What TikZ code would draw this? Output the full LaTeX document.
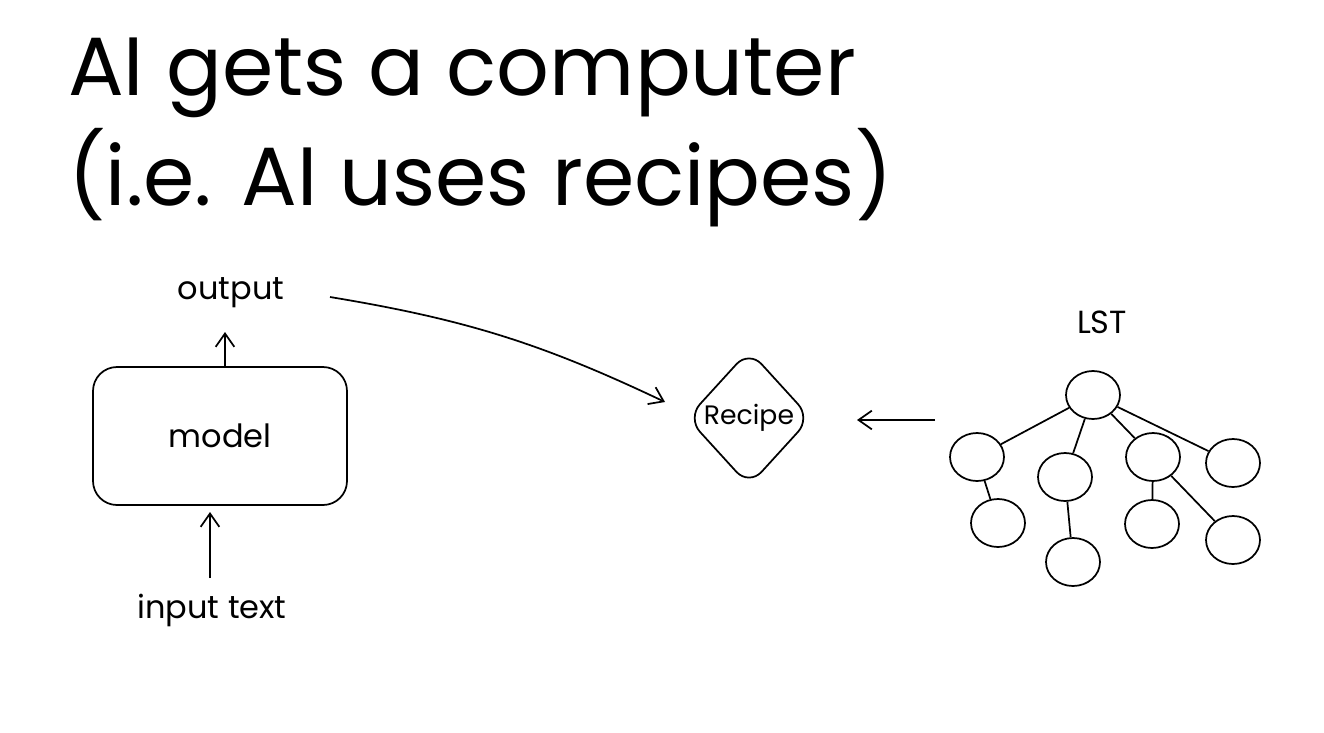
\documentclass[tikz,border=0pt]{standalone}
\usepackage{fontspec}
\setmainfont{Poppins}
\usetikzlibrary{shapes.geometric,arrows.meta}
\begin{document}
\begin{tikzpicture}[x=0.75pt,y=-0.75pt,
  every node/.style={inner sep=0pt},
  lbl/.style={font=\fontsize{24}{28}\selectfont},
  circ/.style={draw,line width=1.3pt,ellipse,minimum width=54pt*0.75,minimum height=48pt*0.75},
  arr/.style={line width=1.3pt,-{Straight Barb[length=10pt,width=14pt]}},
  ln/.style={line width=1.3pt}]
\useasboundingbox (0,0) rectangle (1324,732);
\node[anchor=west,font=\fontsize{62}{68}\selectfont] (t1) at (68,78) {AI gets a computer};
\node[anchor=west,font=\fontsize{62}{68}\selectfont] (t2) at (68,178) {(i.e. AI uses recipes)};
\node[lbl] (out) at (231,293) {output};
\node[draw,line width=1.3pt,rounded corners=18pt,minimum width=254pt*0.75,minimum height=138pt*0.75,lbl] (model) at (220,436) {model};
\node[lbl] (in) at (212,610) {input text};
\coordinate (inS) at (210,578);
\draw[arr] (model.north -| 225,0) -- (225,332);
\draw[arr] (inS) -- (210,512);
\node[draw,diamond,line width=1.3pt,rounded corners=14pt,minimum width=124pt*0.75,minimum height=136pt*0.75,aspect=0.9,inner sep=0pt,text width=0pt,align=center] (rec) at (749,418) {};
\node[font=\fontsize{20}{24}\selectfont] at (rec.center) {Recipe};
\coordinate (cs) at (330,297);
\coordinate (ce) at (665,402);
\draw[arr] (cs) to[bend left=8] (ce);
\coordinate (ls) at (935,420);
\draw[arr] (ls) -- (857,420);
\node[lbl] (lst) at (1102,322) {LST};
\node[circ] (r) at (1093,395) {};
\node[circ] (a) at (977,457) {};
\node[circ] (b) at (1065,477) {};
\node[circ] (c) at (1153,457) {};
\node[circ] (d) at (1233,463) {};
\node[circ] (a1) at (998,523) {};
\node[circ] (b1) at (1073,562) {};
\node[circ] (c1) at (1152,524) {};
\node[circ] (c2) at (1233,540) {};
\draw[ln] (r) -- (a); \draw[ln] (r) -- (b); \draw[ln] (r) -- (c); \draw[ln] (r) -- (d);
\draw[ln] (a) -- (a1); \draw[ln] (b) -- (b1); \draw[ln] (c) -- (c1); \draw[ln] (c) -- (c2);
\end{tikzpicture}
\end{document}
